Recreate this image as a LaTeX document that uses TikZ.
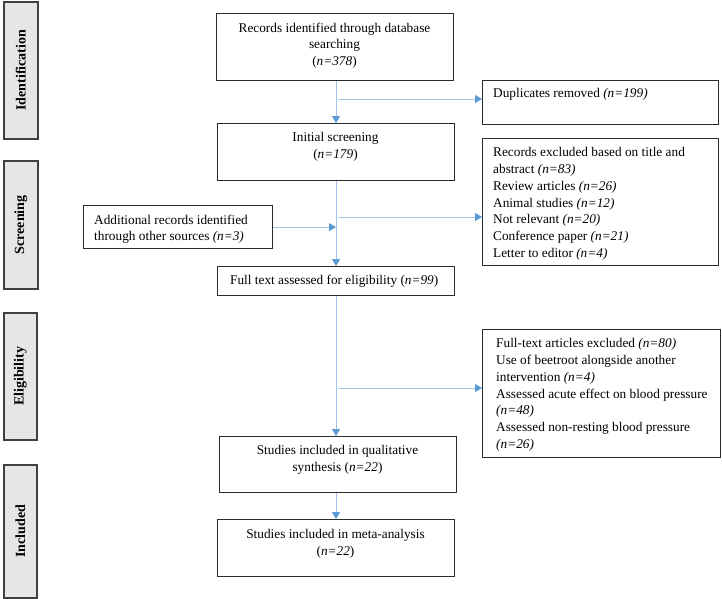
\documentclass[tikz,border=0pt]{standalone}
\usepackage{fontspec}
\setmainfont{Liberation Serif}
\usepackage{graphicx}
\usetikzlibrary{arrows.meta,calc}
\definecolor{lineblue}{HTML}{A3C4E8}
\definecolor{tipblue}{HTML}{5B9BD5}
\definecolor{phasefill}{HTML}{E6E6E6}
\definecolor{phaseedge}{HTML}{404040}
\definecolor{boxedge}{HTML}{2B2B2B}
\begin{document}
\begin{tikzpicture}[x=1pt,y=-1pt,font=\fontsize{13.3}{16.7}\selectfont,
  box/.style={draw=boxedge,line width=1.2pt,inner sep=0pt,anchor=north west},
  phase/.style={draw=phaseedge,fill=phasefill,line width=1.6pt,inner sep=0pt,anchor=north west},
  phaselabel/.style={inner sep=0pt,font=\fontsize{14}{16}\selectfont\bfseries},
  ctxt/.style={inner sep=0pt,align=center,anchor=north},
  ltxt/.style={inner sep=0pt,align=left,anchor=north west},
  flow/.style={draw=lineblue,line width=1pt,-{Triangle[length=7pt,width=8pt,color=tipblue]}}]
\useasboundingbox[fill=white] (0,0) rectangle (722,598);

% phase boxes
\node[phase,minimum width=34pt,minimum height=137pt] (id) at (3,1) {};
\node[phase,minimum width=34pt,minimum height=128pt] (scr) at (3,160) {};
\node[phase,minimum width=33pt,minimum height=127pt] (eli) at (3,312) {};
\node[phase,minimum width=33pt,minimum height=133pt] (inc) at (3,464) {};
\node[phaselabel] (idL) at (id.center) {\rotatebox{90}{Identification}};
\node[phaselabel] (scrL) at (scr.center) {\rotatebox{90}{Screening}};
\node[phaselabel] (eliL) at (eli.center) {\rotatebox{90}{Eligibility}};
\node[phaselabel] (incL) at (inc.center) {\rotatebox{90}{Included}};

% boxes
\node[box,minimum width=237pt,minimum height=67pt] (rec) at (216,13) {};
\node[box,minimum width=237pt,minimum height=57pt] (ini) at (217,123) {};
\node[box,minimum width=236pt,minimum height=44pt] (dup) at (482,80) {};
\node[box,minimum width=236pt,minimum height=127pt] (exc) at (482,138) {};
\node[box,minimum width=189pt,minimum height=43pt] (add) at (83,205) {};
\node[box,minimum width=237pt,minimum height=29pt] (full) at (217,266) {};
\node[box,minimum width=238pt,minimum height=128pt] (fex) at (482,329) {};
\node[box,minimum width=237pt,minimum height=56pt] (qual) at (219,436) {};
\node[box,minimum width=237pt,minimum height=57pt] (meta) at (217,519) {};

% texts
\node[ctxt] (recT) at (334.5,22.5) {Records identified through database\\searching\\(\textit{n=378})};
\node[ctxt] (iniT) at (335.5,132.5) {Initial screening\\(\textit{n=179})};
\node[ltxt] (dupT) at (493,88.5) {Duplicates removed \textit{(n=199)}};
\node[ltxt] (excT) at (493,147.5) {Records excluded based on title and\\abstract \textit{(n=83)}\\Review articles \textit{(n=26)}\\Animal studies \textit{(n=12)}\\Not relevant \textit{(n=20)}\\Conference paper \textit{(n=21)}\\Letter to editor \textit{(n=4)}};
\node[ltxt] (addT) at (94,214.5) {Additional records identified\\through other sources \textit{(n=3)}};
\node[ltxt] (fullT) at (230,274.5) {Full text assessed for eligibility (\textit{n=99})};
\node[ltxt] (fexT) at (496,338.5) {Full-text articles excluded \textit{(n=80)}\\Use of beetroot alongside another\\intervention \textit{(n=4)}\\Assessed acute effect on blood pressure\\\textit{(n=48)}\\Assessed non-resting blood pressure\\\textit{(n=26)}};
\node[ctxt] (qualT) at (337.5,445.5) {Studies included in qualitative\\synthesis (\textit{n=22})};
\node[ctxt] (metaT) at (335.5,529.5) {Studies included in meta-analysis\\(\textit{n=22})};

% connectors
\coordinate (c1) at (336,99);
\coordinate (c2) at (336,217);
\coordinate (c3) at (336,388);
\draw[flow] (rec.south -| c1) -- (ini.north -| c1);
\draw[flow] ($(c1)+(2,0)$) -- (c1 -| dup.west);
\draw[flow] (ini.south -| c2) -- (full.north -| c2);
\draw[flow] ($(c2)+(2,0)$) -- (c2 -| exc.west);
\draw[flow] (add.east) -- (add.east -| c2);
\draw[flow] (full.south -| c3) -- (qual.north -| c3);
\draw[flow] ($(c3)+(2,0)$) -- (c3 -| fex.west);
\draw[flow] (qual.south -| c3) -- (meta.north -| c3);
\end{tikzpicture}
\end{document}
